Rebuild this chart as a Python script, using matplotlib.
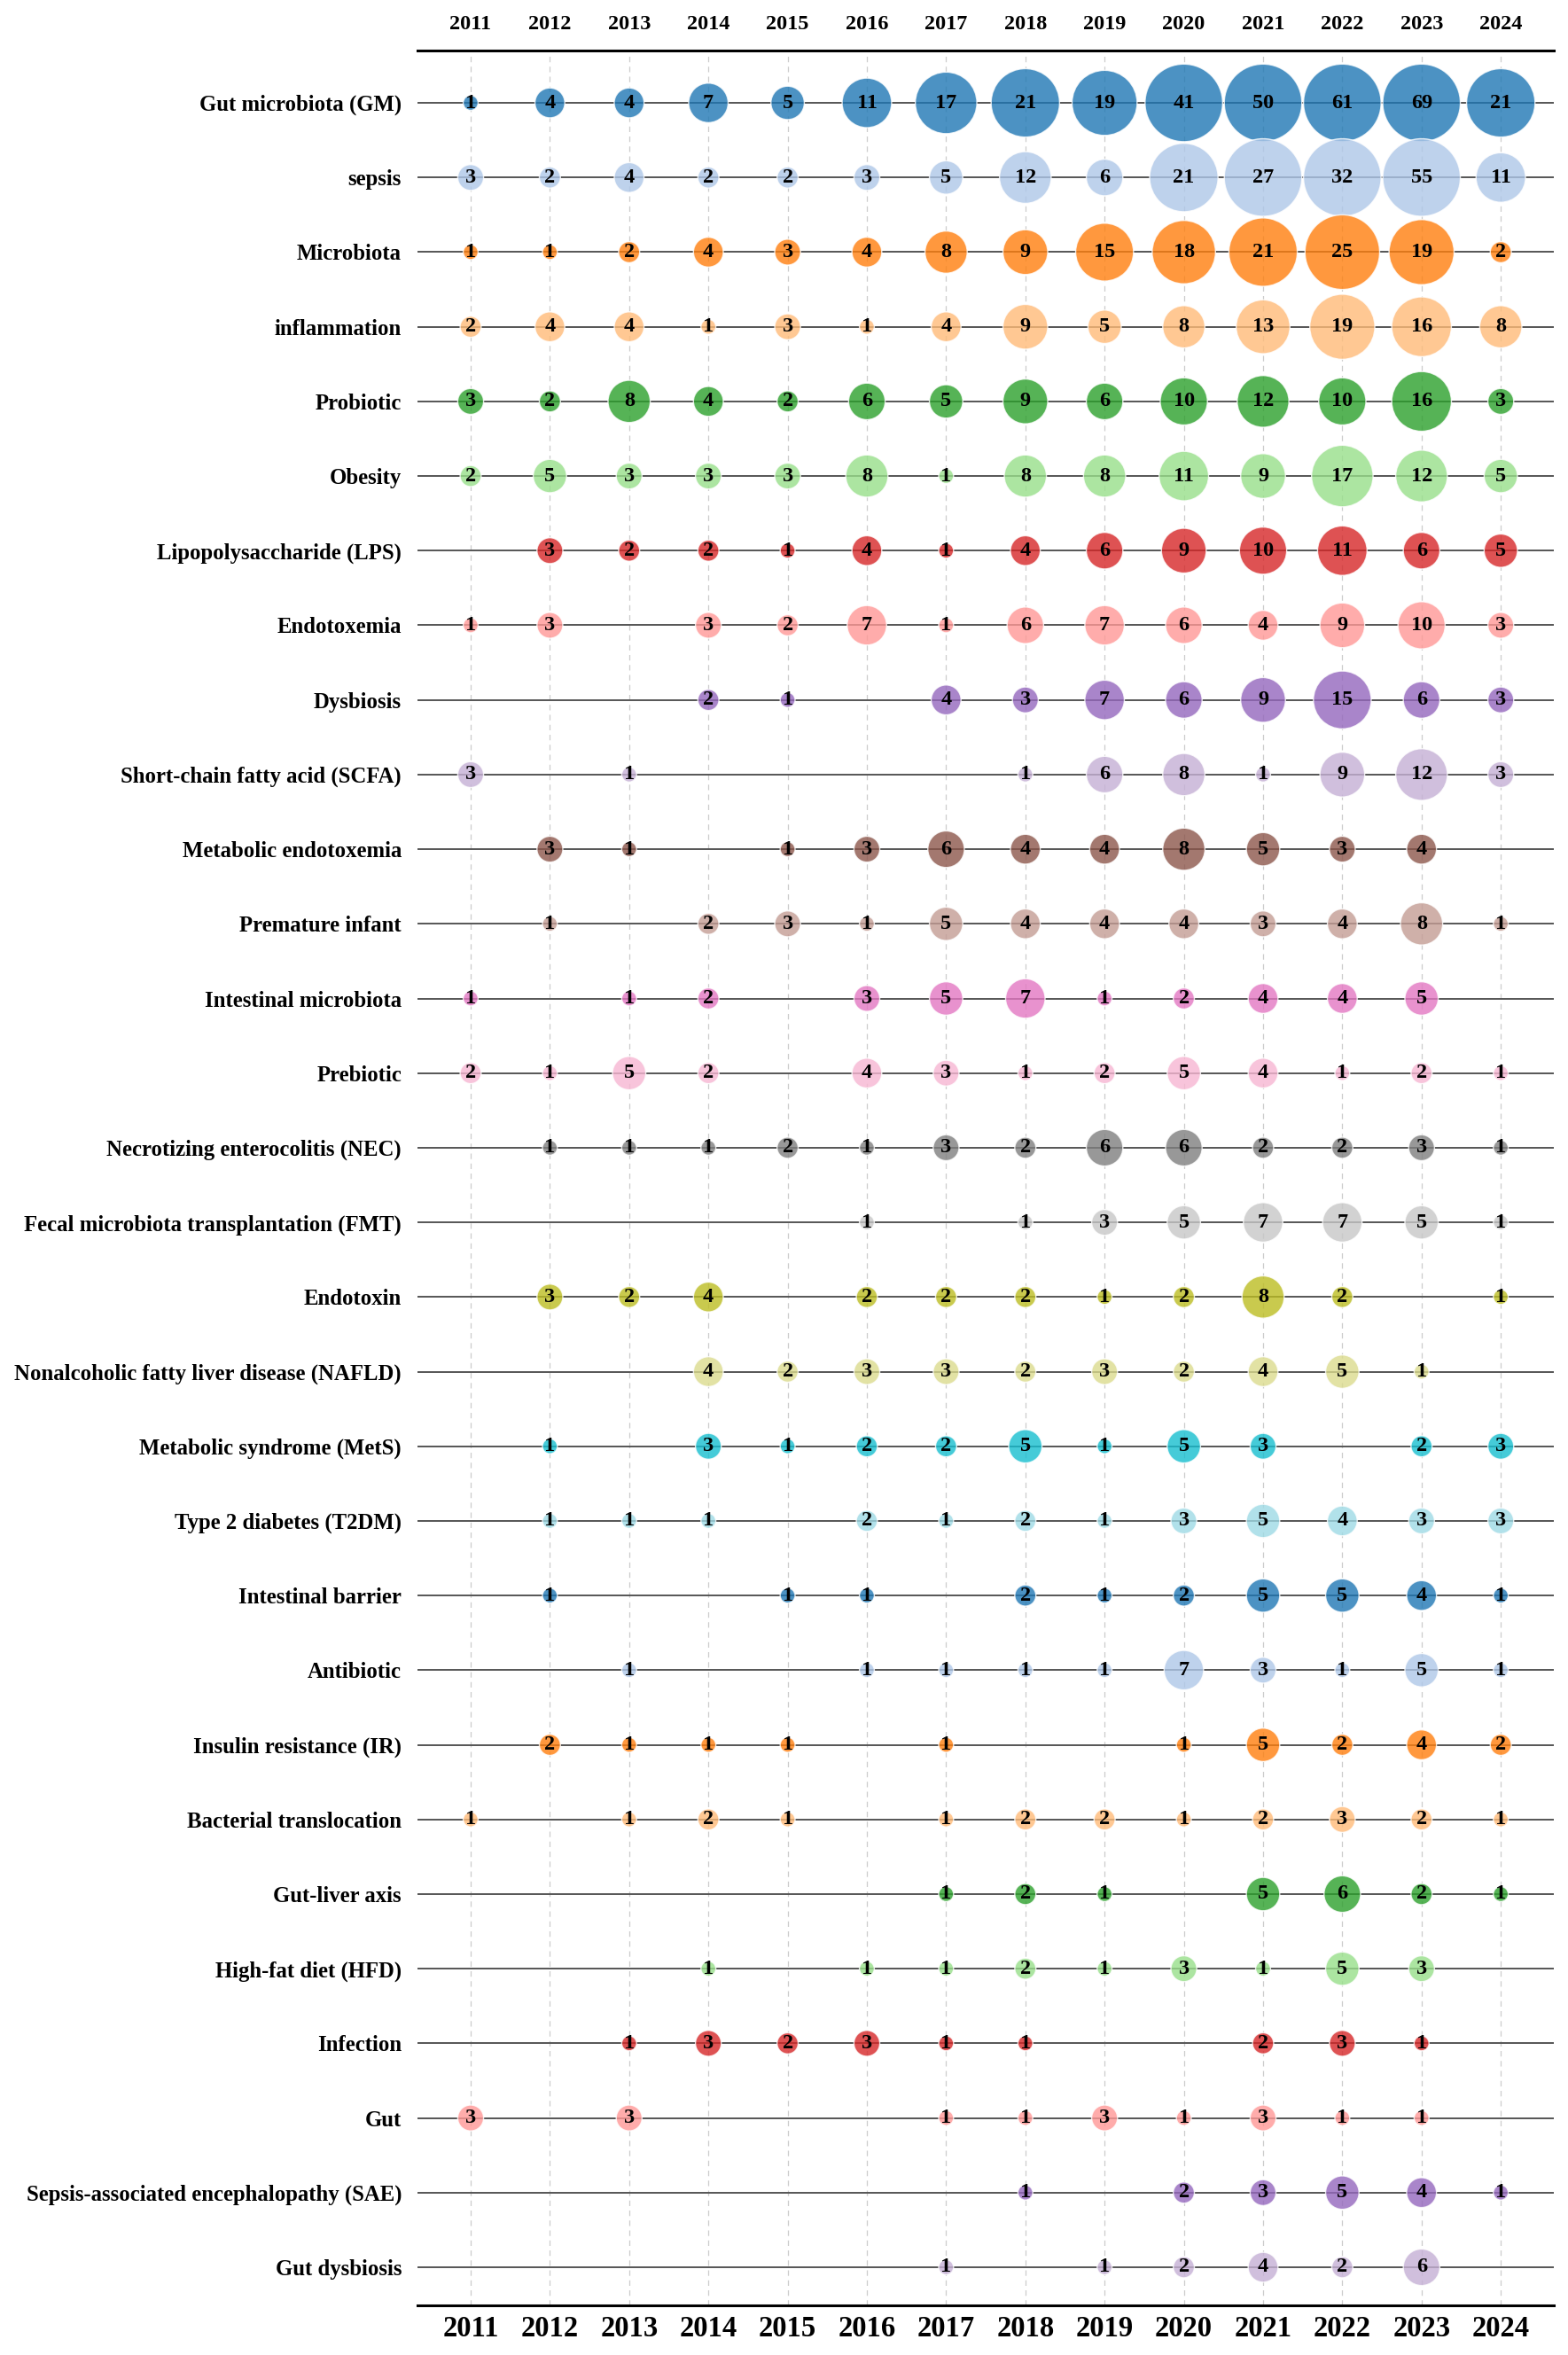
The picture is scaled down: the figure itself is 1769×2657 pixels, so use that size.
import matplotlib
matplotlib.use("Agg")
import matplotlib.pyplot as plt
import numpy as np

years = list(range(2011, 2025))

keywords = [
    "Gut microbiota (GM)", "sepsis", "Microbiota", "inflammation", "Probiotic",
    "Obesity", "Lipopolysaccharide (LPS)", "Endotoxemia", "Dysbiosis",
    "Short-chain fatty acid (SCFA)", "Metabolic endotoxemia", "Premature infant",
    "Intestinal microbiota", "Prebiotic", "Necrotizing enterocolitis (NEC)",
    "Fecal microbiota transplantation (FMT)", "Endotoxin",
    "Nonalcoholic fatty liver disease (NAFLD)", "Metabolic syndrome (MetS)",
    "Type 2 diabetes (T2DM)", "Intestinal barrier", "Antibiotic",
    "Insulin resistance (IR)", "Bacterial translocation", "Gut-liver axis",
    "High-fat diet (HFD)", "Infection", "Gut",
    "Sepsis-associated encephalopathy (SAE)", "Gut dysbiosis",
]

gut_microbiota = [1, 4, 4, 7, 5, 11, 17, 21, 19, 41, 50, 61, 69, 21]
sepsis = [3, 2, 4, 2, 2, 3, 5, 12, 6, 21, 27, 32, 55, 11]
microbiota = [1, 1, 2, 4, 3, 4, 8, 9, 15, 18, 21, 25, 19, 2]
inflammation = [2, 4, 4, 1, 3, 1, 4, 9, 5, 8, 13, 19, 16, 8]
probiotic = [3, 2, 8, 4, 2, 6, 5, 9, 6, 10, 12, 10, 16, 3]
obesity = [2, 5, 3, 3, 3, 8, 1, 8, 8, 11, 9, 17, 12, 5]
lps = [0, 3, 2, 2, 1, 4, 1, 4, 6, 9, 10, 11, 6, 5]
endotoxemia = [1, 3, 0, 3, 2, 7, 1, 6, 7, 6, 4, 9, 10, 3]
dysbiosis = [0, 0, 0, 2, 1, 0, 4, 3, 7, 6, 9, 15, 6, 3]
scfa = [3, 0, 1, 0, 0, 0, 0, 1, 6, 8, 1, 9, 12, 3]
metabolic_endotoxemia = [0, 3, 1, 0, 1, 3, 6, 4, 4, 8, 5, 3, 4, 0]
premature_infant = [0, 1, 0, 2, 3, 1, 5, 4, 4, 4, 3, 4, 8, 1]
intestinal_microbiota = [1, 0, 1, 2, 0, 3, 5, 7, 1, 2, 4, 4, 5, 0]
prebiotic = [2, 1, 5, 2, 0, 4, 3, 1, 2, 5, 4, 1, 2, 1]
nec = [0, 1, 1, 1, 2, 1, 3, 2, 6, 6, 2, 2, 3, 1]
fmt = [0, 0, 0, 0, 0, 1, 0, 1, 3, 5, 7, 7, 5, 1]
endotoxin = [0, 3, 2, 4, 0, 2, 2, 2, 1, 2, 8, 2, 0, 1]
nafld = [0, 0, 0, 4, 2, 3, 3, 2, 3, 2, 4, 5, 1, 0]
mets = [0, 1, 0, 3, 1, 2, 2, 5, 1, 5, 3, 0, 2, 3]
t2dm = [0, 1, 1, 1, 0, 2, 1, 2, 1, 3, 5, 4, 3, 3]
intestinal_barrier = [0, 1, 0, 0, 1, 1, 0, 2, 1, 2, 5, 5, 4, 1]
antibiotic = [0, 0, 1, 0, 0, 1, 1, 1, 1, 7, 3, 1, 5, 1]
insulin_resistance = [0, 2, 1, 1, 1, 0, 1, 0, 0, 1, 5, 2, 4, 2]
bacterial_translocation = [1, 0, 1, 2, 1, 0, 1, 2, 2, 1, 2, 3, 2, 1]
gut_liver_axis = [0, 0, 0, 0, 0, 0, 1, 2, 1, 0, 5, 6, 2, 1]
hfd = [0, 0, 0, 1, 0, 1, 1, 2, 1, 3, 1, 5, 3, 0]
infection = [0, 0, 1, 3, 2, 3, 1, 1, 0, 0, 2, 3, 1, 0]
gut = [3, 0, 3, 0, 0, 0, 1, 1, 3, 1, 3, 1, 1, 0]
sae = [0, 0, 0, 0, 0, 0, 0, 1, 0, 2, 3, 5, 4, 1]
gut_dysbiosis = [0, 0, 0, 0, 0, 0, 1, 0, 1, 2, 4, 2, 6, 0]

series = [
    gut_microbiota, sepsis, microbiota, inflammation, probiotic, obesity, lps,
    endotoxemia, dysbiosis, scfa, metabolic_endotoxemia, premature_infant,
    intestinal_microbiota, prebiotic, nec, fmt, endotoxin, nafld, mets, t2dm,
    intestinal_barrier, antibiotic, insulin_resistance, bacterial_translocation,
    gut_liver_axis, hfd, infection, gut, sae, gut_dysbiosis,
]

FONT = "Liberation Serif"
cmap = plt.get_cmap("tab20")

fig = plt.figure(figsize=(17.69, 26.57), dpi=100)
ax = fig.add_axes([0.2663, 0.0211, 0.991 - 0.2663, 0.9785 - 0.0211])

xs = np.array(years)
for i, (name, vals) in enumerate(zip(keywords, series)):
    vals = np.array(vals)
    ax.axhline(i, color="#555555", lw=1.4, zorder=1)
    mask = vals > 0
    sizes = np.minimum(vals[mask], 27) * 147.0
    ax.scatter(xs[mask], np.full(mask.sum(), i), s=sizes, color=cmap(i % 20),
               alpha=0.8, edgecolors="white", linewidths=1.0, zorder=2 + i * 0.01)
    for x, v in zip(xs[mask], vals[mask]):
        ax.text(x, i, str(v), ha="center", va="center", fontsize=17.5,
                fontweight="bold", family=FONT, color="black", zorder=5)

for y in years:
    ax.axvline(y, color="#cccccc", ls=(0, (5, 4)), lw=0.9, zorder=0)

ax.set_xlim(2010.33, 2024.67)
ax.set_ylim(29.51, -0.70)

ax.set_yticks(range(len(keywords)))
ax.set_yticklabels(keywords, fontsize=17.8, fontweight="bold", family=FONT)
ax.tick_params(axis="y", length=0, pad=13)

ax.set_xticks(years)
ax.set_xticklabels([str(y) for y in years], fontsize=23.5, fontweight="bold",
                   family=FONT)
ax.tick_params(axis="x", length=0, pad=8)

secax = ax.secondary_xaxis("top")
secax.set_xticks(years)
secax.set_xticklabels([str(y) for y in years], fontsize=17.5,
                      fontweight="bold", family=FONT)
secax.tick_params(axis="x", length=0, pad=14)
secax.spines["top"].set_visible(False)

for side in ["left", "right"]:
    ax.spines[side].set_visible(False)
for side in ["top", "bottom"]:
    ax.spines[side].set_linewidth(2.2)
    ax.spines[side].set_color("black")

fig.savefig("out.png", dpi=100, facecolor="white")
